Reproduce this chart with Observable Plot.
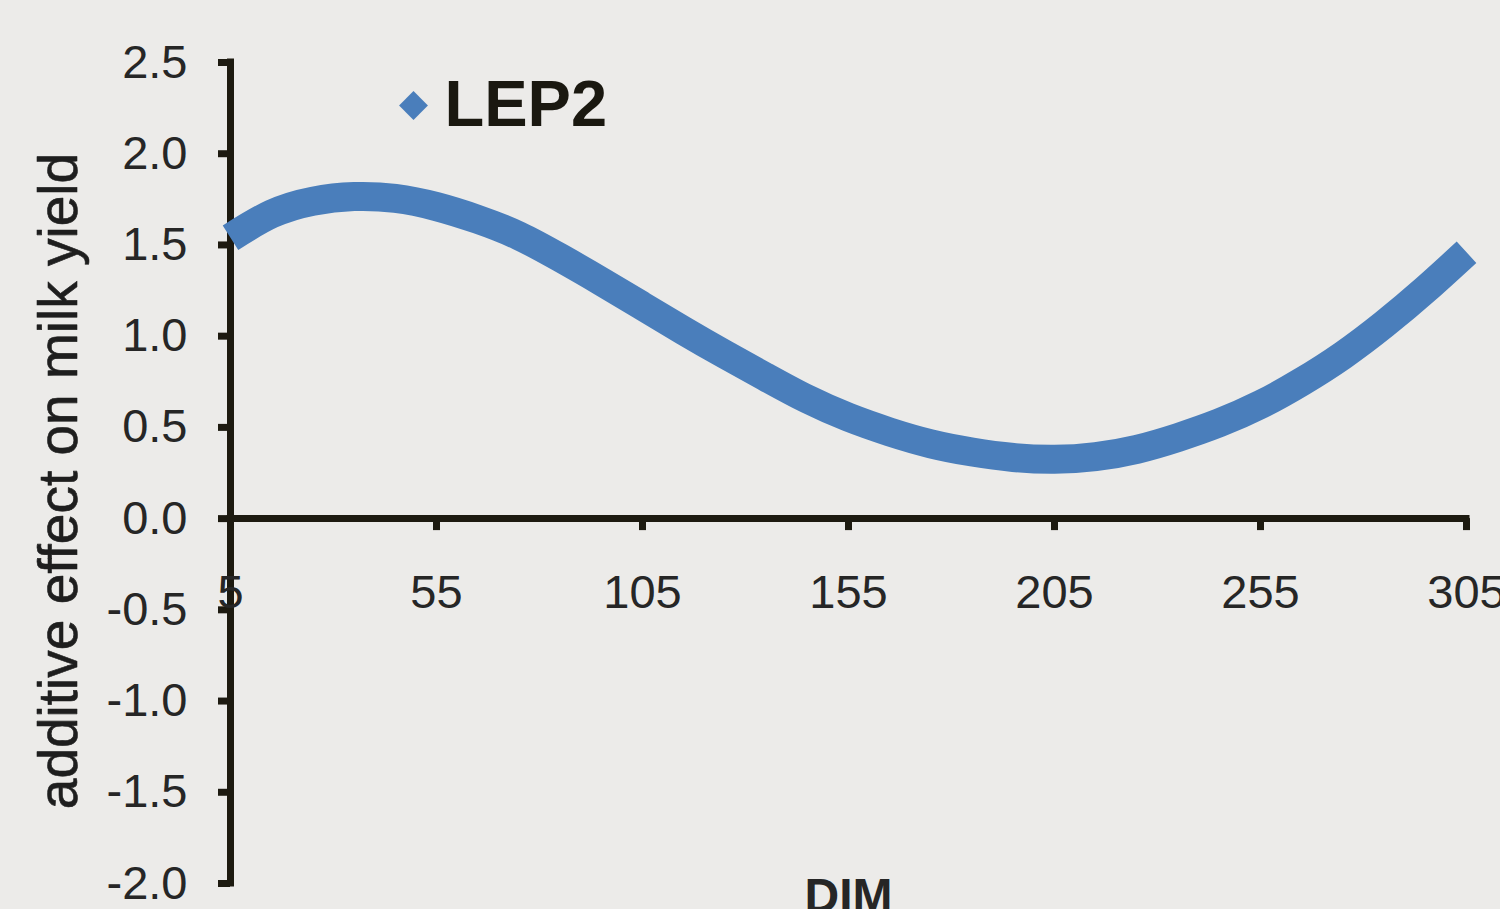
<!DOCTYPE html>
<html>
<head>
<meta charset="utf-8">
<script src="https://cdn.jsdelivr.net/npm/d3@7"></script>
<script src="https://cdn.jsdelivr.net/npm/@observablehq/plot@0.6"></script>
<style>
  html, body { margin: 0; padding: 0; background: #ecebe9; overflow: hidden; }
  #chart svg { display: block; }
</style>
</head>
<body>
<div id="chart"></div>
<script>
// Days in milk (DIM)
const dim = [5, 15, 25, 35, 45, 55, 65, 75, 85, 95, 105, 115, 125, 135, 145, 155,
             165, 175, 185, 195, 205, 215, 225, 235, 245, 255, 265, 275, 285, 295, 305];
// LEP2 additive effect on milk yield
const lep2 = [1.54, 1.67, 1.74, 1.765, 1.755, 1.71, 1.64, 1.55, 1.43, 1.30, 1.165, 1.03, 0.90, 0.775, 0.655, 0.555,
              0.475, 0.41, 0.365, 0.335, 0.325, 0.34, 0.38, 0.445, 0.525, 0.625, 0.75, 0.895, 1.065, 1.255, 1.46];
const xTicks = [5, 55, 105, 155, 205, 255, 305];
const yTicks = [-2.0, -1.5, -1.0, -0.5, 0.0, 0.5, 1.0, 1.5, 2.0, 2.5];
const seriesName = "LEP2";
const xTitle = "DIM";
const yTitle = "additive effect on milk yield";

const data = dim.map((d, i) => ({dim: d, value: lep2[i]}));

const axisColor = "#1d1a10";
const lineColor = "#4a7ebb";
const textColor = "#262626";

const chart = Plot.plot({
  width: 1500,
  height: 909,
  marginLeft: 230,
  marginRight: 34,
  marginTop: 62,
  marginBottom: 26,
  style: {background: "transparent", fontFamily: "'Liberation Sans', Arial, sans-serif", color: textColor, overflow: "visible"},
  x: {domain: [xTicks[0], xTicks[xTicks.length - 1]], axis: null},
  y: {domain: [yTicks[0], yTicks[yTicks.length - 1]]},
  marks: [
    Plot.axisY(yTicks, {
      tickSize: 12, tickPadding: 31, strokeWidth: 7, stroke: axisColor,
      fontSize: 47, fill: textColor, tickFormat: d => d.toFixed(1), label: null
    }),
    Plot.ruleX([xTicks[0]], {stroke: axisColor, strokeWidth: 7, insetTop: -3.5, insetBottom: -3.5}),
    Plot.ruleY([0], {stroke: axisColor, strokeWidth: 7, insetLeft: -3.5, insetRight: -3.5}),
    Plot.ruleX(xTicks, {x: d => d, y1: d => 0, y2: d => 0, insetBottom: -12, stroke: axisColor, strokeWidth: 7, strokeLinecap: "butt"}),
    Plot.text(xTicks, {x: d => d, y: d => 0, dy: 74, text: d => String(d), fontSize: 47, fill: textColor}),
    Plot.line(data, {x: "dim", y: "value", stroke: lineColor, strokeWidth: 29, curve: "natural", strokeLinecap: "butt", strokeLinejoin: "round"}),
    Plot.dot([seriesName], {frameAnchor: "top-left", dx: 183, dy: 43, symbol: "diamond2", r: 13, fill: lineColor, stroke: "none"}),
    Plot.text([seriesName], {frameAnchor: "top-left", dx: 214, dy: 43, lineAnchor: "middle", text: d => d, textAnchor: "start", fontSize: 65, fontWeight: "bold", fill: "#1a1810"}),
    Plot.text([yTitle], {frameAnchor: "left", dx: -171, dy: 8, rotate: -90, textAnchor: "middle", lineAnchor: "middle", text: d => d, fontSize: 55, fill: "#1e1e1e", stroke: "#1e1e1e", strokeWidth: 0.6}),
    Plot.text([xTitle], {frameAnchor: "bottom", dy: -6, lineAnchor: "top", text: d => d, fontSize: 48, fontWeight: "bold", fill: textColor})
  ]
});
document.getElementById("chart").appendChild(chart);
</script>
</body>
</html>
